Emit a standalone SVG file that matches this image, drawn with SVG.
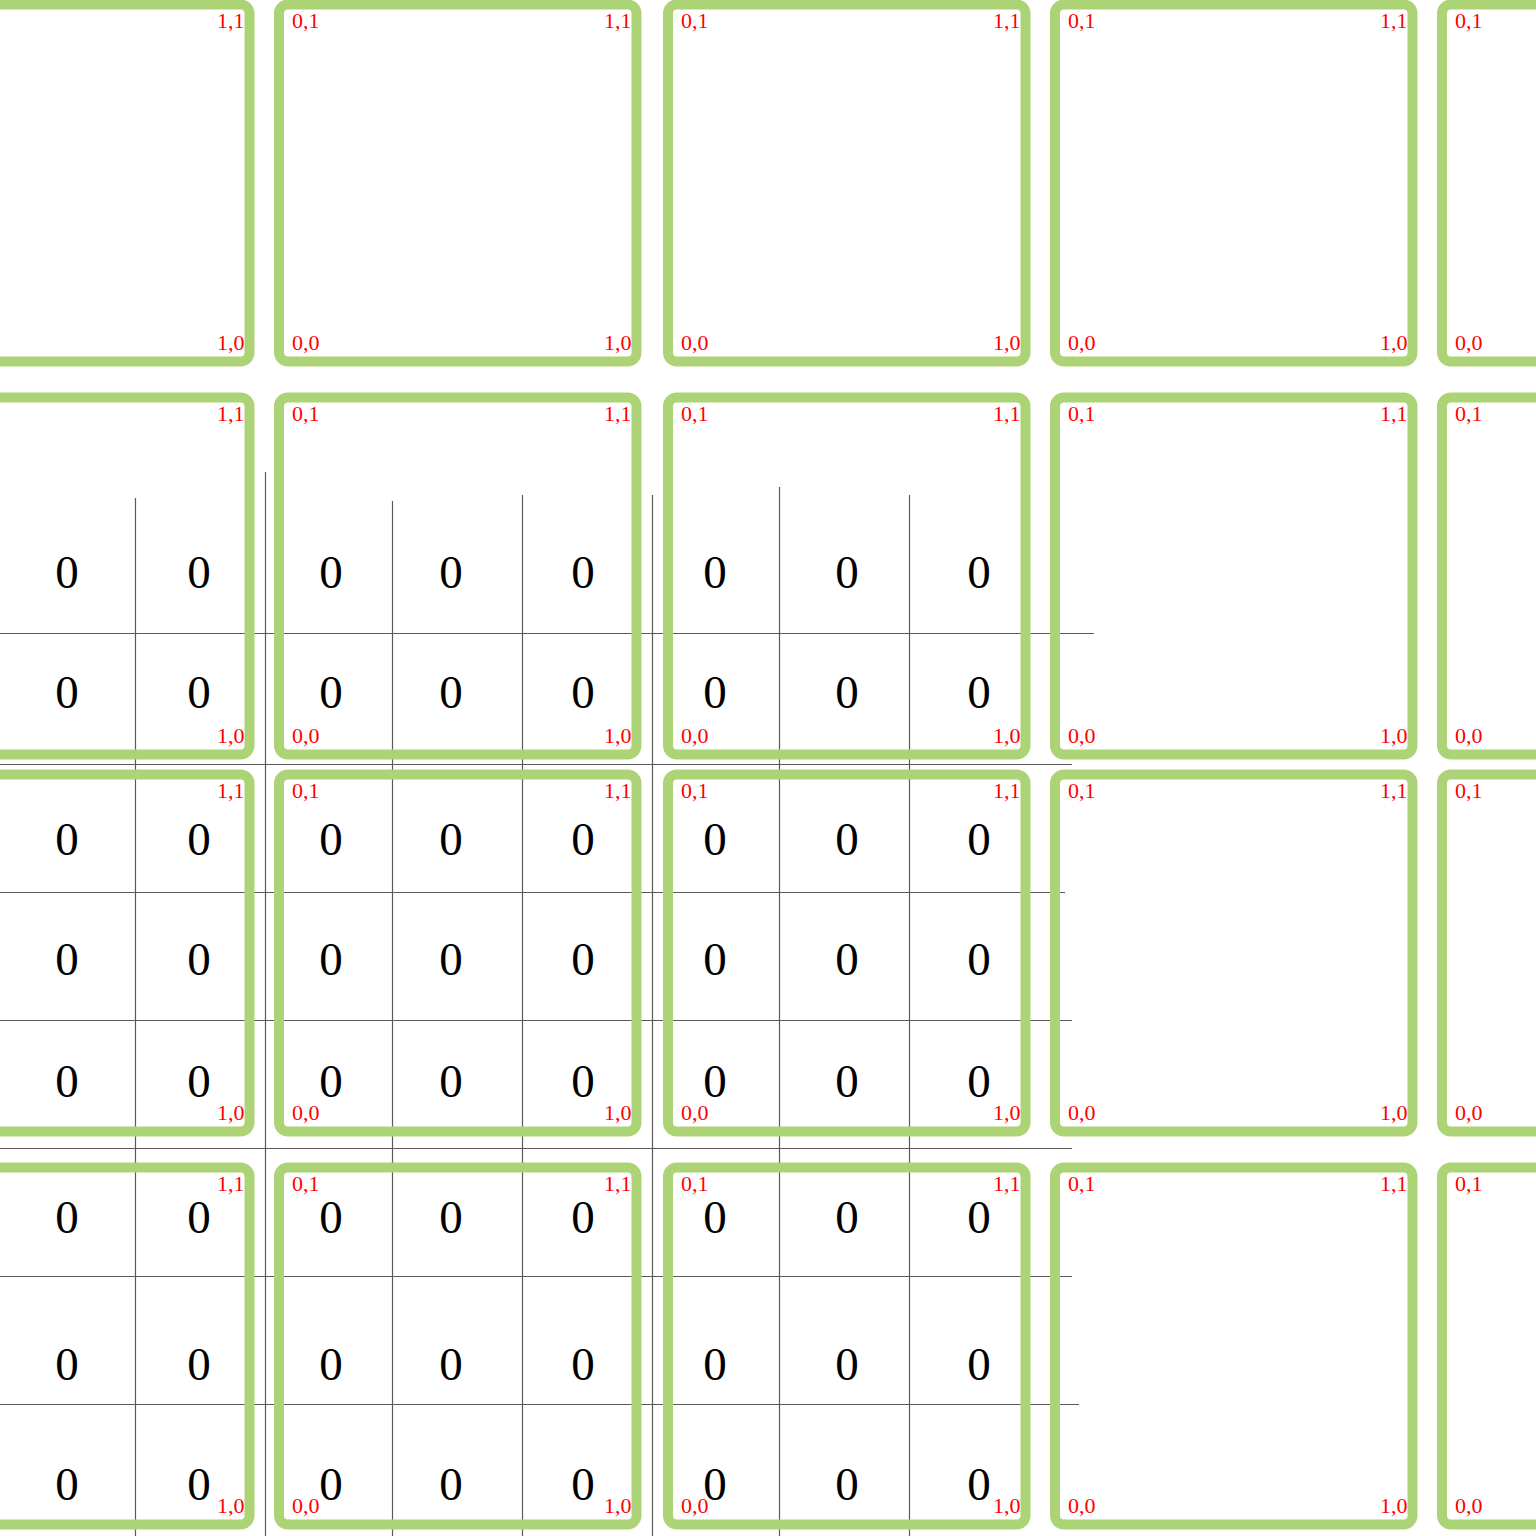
<svg xmlns="http://www.w3.org/2000/svg" width="1536" height="1536" viewBox="0 0 1536 1536">
<style>
.bg{fill:#ffffff}
.grid line{stroke:#5a5a5a;stroke-width:1.2}
.tile rect{fill:none;stroke:#acd376;stroke-width:10}
.lbl{font-family:"Liberation Serif","Times New Roman",serif;font-size:22px;fill:#ff0000}
.e{text-anchor:end}
.num{font-family:"Liberation Serif","Times New Roman",serif;font-size:47px;fill:#000000;text-anchor:middle}
</style>
<rect class="bg" x="0" y="0" width="1536" height="1536"/>
<g id="grid" class="grid">
<line x1="0" y1="633.5" x2="1094" y2="633.5"/>
<line x1="0" y1="764.5" x2="1072" y2="764.5"/>
<line x1="0" y1="892.5" x2="1065" y2="892.5"/>
<line x1="0" y1="1020.5" x2="1072" y2="1020.5"/>
<line x1="0" y1="1148.5" x2="1072" y2="1148.5"/>
<line x1="0" y1="1276.5" x2="1072" y2="1276.5"/>
<line x1="0" y1="1404.5" x2="1079" y2="1404.5"/>
<line x1="135.5" y1="498" x2="135.5" y2="1536"/>
<line x1="265.5" y1="472" x2="265.5" y2="1536"/>
<line x1="392.5" y1="501" x2="392.5" y2="1536"/>
<line x1="522.5" y1="495" x2="522.5" y2="1536"/>
<line x1="652.5" y1="495" x2="652.5" y2="1536"/>
<line x1="779.5" y1="487" x2="779.5" y2="1536"/>
<line x1="909.5" y1="495" x2="909.5" y2="1536"/>
</g>
<g id="cells" class="num">
<text x="67" y="588">0</text><text x="199" y="588">0</text><text x="331" y="588">0</text><text x="451" y="588">0</text><text x="583" y="588">0</text><text x="715" y="588">0</text><text x="847" y="588">0</text><text x="979" y="588">0</text>
<text x="67" y="708">0</text><text x="199" y="708">0</text><text x="331" y="708">0</text><text x="451" y="708">0</text><text x="583" y="708">0</text><text x="715" y="708">0</text><text x="847" y="708">0</text><text x="979" y="708">0</text>
<text x="67" y="855">0</text><text x="199" y="855">0</text><text x="331" y="855">0</text><text x="451" y="855">0</text><text x="583" y="855">0</text><text x="715" y="855">0</text><text x="847" y="855">0</text><text x="979" y="855">0</text>
<text x="67" y="975">0</text><text x="199" y="975">0</text><text x="331" y="975">0</text><text x="451" y="975">0</text><text x="583" y="975">0</text><text x="715" y="975">0</text><text x="847" y="975">0</text><text x="979" y="975">0</text>
<text x="67" y="1097">0</text><text x="199" y="1097">0</text><text x="331" y="1097">0</text><text x="451" y="1097">0</text><text x="583" y="1097">0</text><text x="715" y="1097">0</text><text x="847" y="1097">0</text><text x="979" y="1097">0</text>
<text x="67" y="1233">0</text><text x="199" y="1233">0</text><text x="331" y="1233">0</text><text x="451" y="1233">0</text><text x="583" y="1233">0</text><text x="715" y="1233">0</text><text x="847" y="1233">0</text><text x="979" y="1233">0</text>
<text x="67" y="1380">0</text><text x="199" y="1380">0</text><text x="331" y="1380">0</text><text x="451" y="1380">0</text><text x="583" y="1380">0</text><text x="715" y="1380">0</text><text x="847" y="1380">0</text><text x="979" y="1380">0</text>
<text x="67" y="1500">0</text><text x="199" y="1500">0</text><text x="331" y="1500">0</text><text x="451" y="1500">0</text><text x="583" y="1500">0</text><text x="715" y="1500">0</text><text x="847" y="1500">0</text><text x="979" y="1500">0</text>
</g>
<!-- row 1 -->
<g id="tile-r1c1" class="tile"><rect x="-108" y="4.5" width="357.5" height="357" rx="9"/><text class="lbl e" x="244.5" y="28">1,1</text><text class="lbl e" x="244.5" y="350">1,0</text></g>
<g id="tile-r1c2" class="tile"><rect x="279" y="4.5" width="357.5" height="357" rx="9"/><text class="lbl" x="292" y="28">0,1</text><text class="lbl e" x="631.5" y="28">1,1</text><text class="lbl" x="292" y="350">0,0</text><text class="lbl e" x="631.5" y="350">1,0</text></g>
<g id="tile-r1c3" class="tile"><rect x="668" y="4.5" width="357.5" height="357" rx="9"/><text class="lbl" x="681" y="28">0,1</text><text class="lbl e" x="1020.5" y="28">1,1</text><text class="lbl" x="681" y="350">0,0</text><text class="lbl e" x="1020.5" y="350">1,0</text></g>
<g id="tile-r1c4" class="tile"><rect x="1055" y="4.5" width="357.5" height="357" rx="9"/><text class="lbl" x="1068" y="28">0,1</text><text class="lbl e" x="1407.5" y="28">1,1</text><text class="lbl" x="1068" y="350">0,0</text><text class="lbl e" x="1407.5" y="350">1,0</text></g>
<g id="tile-r1c5" class="tile"><rect x="1442" y="4.5" width="357.5" height="357" rx="9"/><text class="lbl" x="1455" y="28">0,1</text><text class="lbl" x="1455" y="350">0,0</text></g>
<!-- row 2 -->
<g id="tile-r2c1" class="tile"><rect x="-108" y="397.5" width="357.5" height="357" rx="9"/><text class="lbl e" x="244.5" y="421">1,1</text><text class="lbl e" x="244.5" y="743">1,0</text></g>
<g id="tile-r2c2" class="tile"><rect x="279" y="397.5" width="357.5" height="357" rx="9"/><text class="lbl" x="292" y="421">0,1</text><text class="lbl e" x="631.5" y="421">1,1</text><text class="lbl" x="292" y="743">0,0</text><text class="lbl e" x="631.5" y="743">1,0</text></g>
<g id="tile-r2c3" class="tile"><rect x="668" y="397.5" width="357.5" height="357" rx="9"/><text class="lbl" x="681" y="421">0,1</text><text class="lbl e" x="1020.5" y="421">1,1</text><text class="lbl" x="681" y="743">0,0</text><text class="lbl e" x="1020.5" y="743">1,0</text></g>
<g id="tile-r2c4" class="tile"><rect x="1055" y="397.5" width="357.5" height="357" rx="9"/><text class="lbl" x="1068" y="421">0,1</text><text class="lbl e" x="1407.5" y="421">1,1</text><text class="lbl" x="1068" y="743">0,0</text><text class="lbl e" x="1407.5" y="743">1,0</text></g>
<g id="tile-r2c5" class="tile"><rect x="1442" y="397.5" width="357.5" height="357" rx="9"/><text class="lbl" x="1455" y="421">0,1</text><text class="lbl" x="1455" y="743">0,0</text></g>
<!-- row 3 -->
<g id="tile-r3c1" class="tile"><rect x="-108" y="774.5" width="357.5" height="357" rx="9"/><text class="lbl e" x="244.5" y="798">1,1</text><text class="lbl e" x="244.5" y="1120">1,0</text></g>
<g id="tile-r3c2" class="tile"><rect x="279" y="774.5" width="357.5" height="357" rx="9"/><text class="lbl" x="292" y="798">0,1</text><text class="lbl e" x="631.5" y="798">1,1</text><text class="lbl" x="292" y="1120">0,0</text><text class="lbl e" x="631.5" y="1120">1,0</text></g>
<g id="tile-r3c3" class="tile"><rect x="668" y="774.5" width="357.5" height="357" rx="9"/><text class="lbl" x="681" y="798">0,1</text><text class="lbl e" x="1020.5" y="798">1,1</text><text class="lbl" x="681" y="1120">0,0</text><text class="lbl e" x="1020.5" y="1120">1,0</text></g>
<g id="tile-r3c4" class="tile"><rect x="1055" y="774.5" width="357.5" height="357" rx="9"/><text class="lbl" x="1068" y="798">0,1</text><text class="lbl e" x="1407.5" y="798">1,1</text><text class="lbl" x="1068" y="1120">0,0</text><text class="lbl e" x="1407.5" y="1120">1,0</text></g>
<g id="tile-r3c5" class="tile"><rect x="1442" y="774.5" width="357.5" height="357" rx="9"/><text class="lbl" x="1455" y="798">0,1</text><text class="lbl" x="1455" y="1120">0,0</text></g>
<!-- row 4 -->
<g id="tile-r4c1" class="tile"><rect x="-108" y="1167.5" width="357.5" height="357" rx="9"/><text class="lbl e" x="244.5" y="1191">1,1</text><text class="lbl e" x="244.5" y="1513">1,0</text></g>
<g id="tile-r4c2" class="tile"><rect x="279" y="1167.5" width="357.5" height="357" rx="9"/><text class="lbl" x="292" y="1191">0,1</text><text class="lbl e" x="631.5" y="1191">1,1</text><text class="lbl" x="292" y="1513">0,0</text><text class="lbl e" x="631.5" y="1513">1,0</text></g>
<g id="tile-r4c3" class="tile"><rect x="668" y="1167.5" width="357.5" height="357" rx="9"/><text class="lbl" x="681" y="1191">0,1</text><text class="lbl e" x="1020.5" y="1191">1,1</text><text class="lbl" x="681" y="1513">0,0</text><text class="lbl e" x="1020.5" y="1513">1,0</text></g>
<g id="tile-r4c4" class="tile"><rect x="1055" y="1167.5" width="357.5" height="357" rx="9"/><text class="lbl" x="1068" y="1191">0,1</text><text class="lbl e" x="1407.5" y="1191">1,1</text><text class="lbl" x="1068" y="1513">0,0</text><text class="lbl e" x="1407.5" y="1513">1,0</text></g>
<g id="tile-r4c5" class="tile"><rect x="1442" y="1167.5" width="357.5" height="357" rx="9"/><text class="lbl" x="1455" y="1191">0,1</text><text class="lbl" x="1455" y="1513">0,0</text></g>
</svg>
